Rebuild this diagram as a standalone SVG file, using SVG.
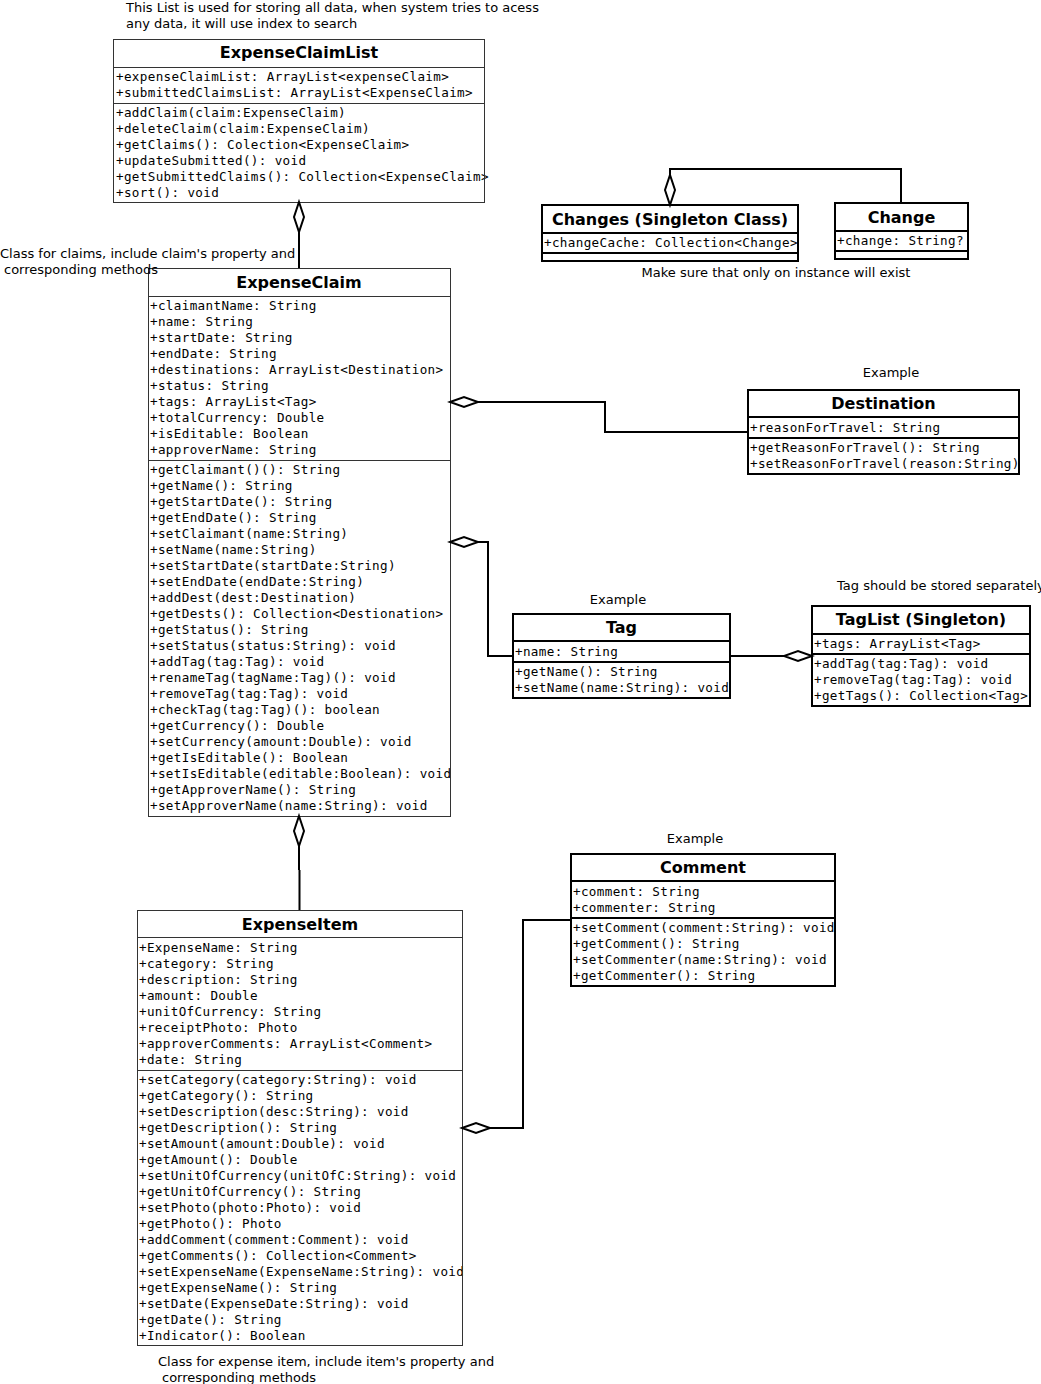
<svg xmlns="http://www.w3.org/2000/svg" width="1041" height="1384" viewBox="0 0 1041 1384">
  <style>
    .bg { fill: #ffffff; }
    .thin { fill: none; stroke: #333333; stroke-width: 1; }
    .thick { fill: none; stroke: #000000; stroke-width: 2; }
    .title { font-family: "DejaVu Sans", "Liberation Sans", sans-serif; font-size: 16px; font-weight: bold; text-anchor: middle; fill: #000; }
    .mono { font-family: "DejaVu Sans Mono", "Liberation Mono", monospace; font-size: 12.6px; letter-spacing: 0.35px; fill: #000; }
    .note { font-family: "DejaVu Sans", "Liberation Sans", sans-serif; font-size: 13px; fill: #000; }
    .mid { text-anchor: middle; }
    .edge { fill: none; stroke: #000; stroke-width: 2; }
    .diamond { fill: #fff; stroke: #000; stroke-width: 2; stroke-linejoin: miter; }
  </style>
  <rect class="bg" x="0" y="0" width="1041" height="1384"/>

  <!-- ExpenseClaimList -->
  <g id="expenseClaimList">
    <rect class="bg" x="113.5" y="39.5" width="371" height="163"/>
    <text class="title" x="299" y="58">ExpenseClaimList</text>
    <text class="mono" x="116" y="81">+expenseClaimList: ArrayList&lt;expenseClaim&gt;</text>
    <text class="mono" x="116" y="97">+submittedClaimsList: ArrayList&lt;ExpenseClaim&gt;</text>
    <text class="mono" x="116" y="117">+addClaim(claim:ExpenseClaim)</text>
    <text class="mono" x="116" y="133">+deleteClaim(claim:ExpenseClaim)</text>
    <text class="mono" x="116" y="149">+getClaims(): Colection&lt;ExpenseClaim&gt;</text>
    <text class="mono" x="116" y="165">+updateSubmitted(): void</text>
    <text class="mono" x="116" y="181">+getSubmittedClaims(): Collection&lt;ExpenseClaim&gt;</text>
    <text class="mono" x="116" y="197">+sort(): void</text>
    <rect class="thin" x="113.5" y="39.5" width="371" height="163"/>
    <path class="thin" d="M113.5 67.5 H484.5 M113.5 103.5 H484.5"/>
  </g>

  <!-- ExpenseClaim -->
  <g id="expenseClaim">
    <rect class="bg" x="148.5" y="268.5" width="302" height="548"/>
    <text class="title" x="299" y="288">ExpenseClaim</text>
    <text class="mono" x="150" y="310">+claimantName: String</text>
    <text class="mono" x="150" y="326">+name: String</text>
    <text class="mono" x="150" y="342">+startDate: String</text>
    <text class="mono" x="150" y="358">+endDate: String</text>
    <text class="mono" x="150" y="374">+destinations: ArrayList&lt;Destination&gt;</text>
    <text class="mono" x="150" y="390">+status: String</text>
    <text class="mono" x="150" y="406">+tags: ArrayList&lt;Tag&gt;</text>
    <text class="mono" x="150" y="422">+totalCurrency: Double</text>
    <text class="mono" x="150" y="438">+isEditable: Boolean</text>
    <text class="mono" x="150" y="454">+approverName: String</text>
    <text class="mono" x="150" y="474">+getClaimant()(): String</text>
    <text class="mono" x="150" y="490">+getName(): String</text>
    <text class="mono" x="150" y="506">+getStartDate(): String</text>
    <text class="mono" x="150" y="522">+getEndDate(): String</text>
    <text class="mono" x="150" y="538">+setClaimant(name:String)</text>
    <text class="mono" x="150" y="554">+setName(name:String)</text>
    <text class="mono" x="150" y="570">+setStartDate(startDate:String)</text>
    <text class="mono" x="150" y="586">+setEndDate(endDate:String)</text>
    <text class="mono" x="150" y="602">+addDest(dest:Destination)</text>
    <text class="mono" x="150" y="618">+getDests(): Collection&lt;Destionation&gt;</text>
    <text class="mono" x="150" y="634">+getStatus(): String</text>
    <text class="mono" x="150" y="650">+setStatus(status:String): void</text>
    <text class="mono" x="150" y="666">+addTag(tag:Tag): void</text>
    <text class="mono" x="150" y="682">+renameTag(tagName:Tag)(): void</text>
    <text class="mono" x="150" y="698">+removeTag(tag:Tag): void</text>
    <text class="mono" x="150" y="714">+checkTag(tag:Tag)(): boolean</text>
    <text class="mono" x="150" y="730">+getCurrency(): Double</text>
    <text class="mono" x="150" y="746">+setCurrency(amount:Double): void</text>
    <text class="mono" x="150" y="762">+getIsEditable(): Boolean</text>
    <text class="mono" x="150" y="778">+setIsEditable(editable:Boolean): void</text>
    <text class="mono" x="150" y="794">+getApproverName(): String</text>
    <text class="mono" x="150" y="810">+setApproverName(name:String): void</text>
    <rect class="thin" x="148.5" y="268.5" width="302" height="548"/>
    <path class="thin" d="M148.5 296.5 H450.5 M148.5 460.5 H450.5"/>
  </g>

  <!-- ExpenseItem -->
  <g id="expenseItem">
    <rect class="bg" x="137.5" y="910.5" width="325" height="435"/>
    <text class="title" x="300" y="930">ExpenseItem</text>
    <text class="mono" x="139" y="952">+ExpenseName: String</text>
    <text class="mono" x="139" y="968">+category: String</text>
    <text class="mono" x="139" y="984">+description: String</text>
    <text class="mono" x="139" y="1000">+amount: Double</text>
    <text class="mono" x="139" y="1016">+unitOfCurrency: String</text>
    <text class="mono" x="139" y="1032">+receiptPhoto: Photo</text>
    <text class="mono" x="139" y="1048">+approverComments: ArrayList&lt;Comment&gt;</text>
    <text class="mono" x="139" y="1064">+date: String</text>
    <text class="mono" x="139" y="1084">+setCategory(category:String): void</text>
    <text class="mono" x="139" y="1100">+getCategory(): String</text>
    <text class="mono" x="139" y="1116">+setDescription(desc:String): void</text>
    <text class="mono" x="139" y="1132">+getDescription(): String</text>
    <text class="mono" x="139" y="1148">+setAmount(amount:Double): void</text>
    <text class="mono" x="139" y="1164">+getAmount(): Double</text>
    <text class="mono" x="139" y="1180">+setUnitOfCurrency(unitOfC:String): void</text>
    <text class="mono" x="139" y="1196">+getUnitOfCurrency(): String</text>
    <text class="mono" x="139" y="1212">+setPhoto(photo:Photo): void</text>
    <text class="mono" x="139" y="1228">+getPhoto(): Photo</text>
    <text class="mono" x="139" y="1244">+addComment(comment:Comment): void</text>
    <text class="mono" x="139" y="1260">+getComments(): Collection&lt;Comment&gt;</text>
    <text class="mono" x="139" y="1276">+setExpenseName(ExpenseName:String): void</text>
    <text class="mono" x="139" y="1292">+getExpenseName(): String</text>
    <text class="mono" x="139" y="1308">+setDate(ExpenseDate:String): void</text>
    <text class="mono" x="139" y="1324">+getDate(): String</text>
    <text class="mono" x="139" y="1340">+Indicator(): Boolean</text>
    <rect class="thin" x="137.5" y="910.5" width="325" height="435"/>
    <path class="thin" d="M137.5 937.5 H462.5 M137.5 1070.5 H462.5"/>
  </g>

  <!-- Changes (Singleton Class) -->
  <g id="changes">
    <rect class="bg" x="542" y="205" width="256" height="56"/>
    <text class="title" x="670" y="225">Changes (Singleton Class)</text>
    <text class="mono" x="544" y="247">+changeCache: Collection&lt;Change&gt;</text>
    <rect class="thick" x="542" y="205" width="256" height="56"/>
    <path class="thick" d="M542 233 H798 M542 253 H798"/>
  </g>

  <!-- Change -->
  <g id="change">
    <rect class="bg" x="835" y="203" width="133" height="56"/>
    <text class="title" x="901.5" y="223">Change</text>
    <text class="mono" x="837" y="245">+change: String?</text>
    <rect class="thick" x="835" y="203" width="133" height="56"/>
    <path class="thick" d="M835 231 H968 M835 251 H968"/>
  </g>

  <!-- Destination -->
  <g id="destination">
    <rect class="bg" x="748" y="390" width="271" height="84"/>
    <text class="title" x="883.5" y="409">Destination</text>
    <text class="mono" x="750" y="432">+reasonForTravel: String</text>
    <text class="mono" x="750" y="452">+getReasonForTravel(): String</text>
    <text class="mono" x="750" y="468">+setReasonForTravel(reason:String)</text>
    <rect class="thick" x="748" y="390" width="271" height="84"/>
    <path class="thick" d="M748 417 H1019 M748 438 H1019"/>
  </g>

  <!-- Tag -->
  <g id="tag">
    <rect class="bg" x="513" y="614" width="217" height="84"/>
    <text class="title" x="621.5" y="633">Tag</text>
    <text class="mono" x="515" y="656">+name: String</text>
    <text class="mono" x="515" y="676">+getName(): String</text>
    <text class="mono" x="515" y="692">+setName(name:String): void</text>
    <rect class="thick" x="513" y="614" width="217" height="84"/>
    <path class="thick" d="M513 641 H730 M513 662 H730"/>
  </g>

  <!-- TagList (Singleton) -->
  <g id="tagList">
    <rect class="bg" x="812" y="606" width="218" height="100"/>
    <text class="title" x="921" y="625">TagList (Singleton)</text>
    <text class="mono" x="814" y="648">+tags: ArrayList&lt;Tag&gt;</text>
    <text class="mono" x="814" y="668">+addTag(tag:Tag): void</text>
    <text class="mono" x="814" y="684">+removeTag(tag:Tag): void</text>
    <text class="mono" x="814" y="700">+getTags(): Collection&lt;Tag&gt;</text>
    <rect class="thick" x="812" y="606" width="218" height="100"/>
    <path class="thick" d="M812 634 H1030 M812 654 H1030"/>
  </g>

  <!-- Comment -->
  <g id="comment">
    <rect class="bg" x="571" y="854" width="264" height="132"/>
    <text class="title" x="703" y="873">Comment</text>
    <text class="mono" x="573" y="896">+comment: String</text>
    <text class="mono" x="573" y="912">+commenter: String</text>
    <text class="mono" x="573" y="932">+setComment(comment:String): void</text>
    <text class="mono" x="573" y="948">+getComment(): String</text>
    <text class="mono" x="573" y="964">+setCommenter(name:String): void</text>
    <text class="mono" x="573" y="980">+getCommenter(): String</text>
    <rect class="thick" x="571" y="854" width="264" height="132"/>
    <path class="thick" d="M571 881 H835 M571 918 H835"/>
  </g>

  <!-- aggregation connectors (hollow diamond at the whole) -->
  <g id="connectors">
    <path class="edge" d="M299 232 V268"/>
    <polygon class="diamond" points="299,202 304,217 299,232 294,217"/>

    <path class="edge" d="M670 175 V169 H901 V203"/>
    <polygon class="diamond" points="670,205 675,190 670,175 665,190"/>

    <path class="edge" d="M478 402 H605 V432 H748"/>
    <polygon class="diamond" points="450,402 464,397 478,402 464,407"/>

    <path class="edge" d="M478 542 H488 V656 H513"/>
    <polygon class="diamond" points="450,542 464,537 478,542 464,547"/>

    <path class="edge" d="M730 656 H784"/>
    <polygon class="diamond" points="812,656 798,651 784,656 798,661"/>

    <path class="edge" d="M299 846 V870 M299.5 870 V910"/>
    <polygon class="diamond" points="299,816 304,831 299,846 294,831"/>

    <path class="edge" d="M571 920 H523 V1128 H490"/>
    <polygon class="diamond" points="462,1128 476,1123 490,1128 476,1133"/>
  </g>

  <!-- free-standing notes, drawn last so they sit above the class boxes -->
  <g id="notes">
    <text class="note" x="126" y="12">This List is used for storing all data, when system tries to acess</text>
    <text class="note" x="126" y="28">any data, it will use index to search</text>
    <text class="note" x="0" y="258">Class for claims, include claim's property and</text>
    <text class="note" x="4" y="274">corresponding methods</text>
    <text class="note mid" x="776" y="277">Make sure that only on instance will exist</text>
    <text class="note mid" x="891" y="377">Example</text>
    <text class="note mid" x="618" y="604">Example</text>
    <text class="note" x="837" y="590">Tag should be stored separately</text>
    <text class="note mid" x="695" y="843">Example</text>
    <text class="note" x="158" y="1366">Class for expense item, include item's property and</text>
    <text class="note" x="162" y="1382">corresponding methods</text>
  </g>
</svg>
